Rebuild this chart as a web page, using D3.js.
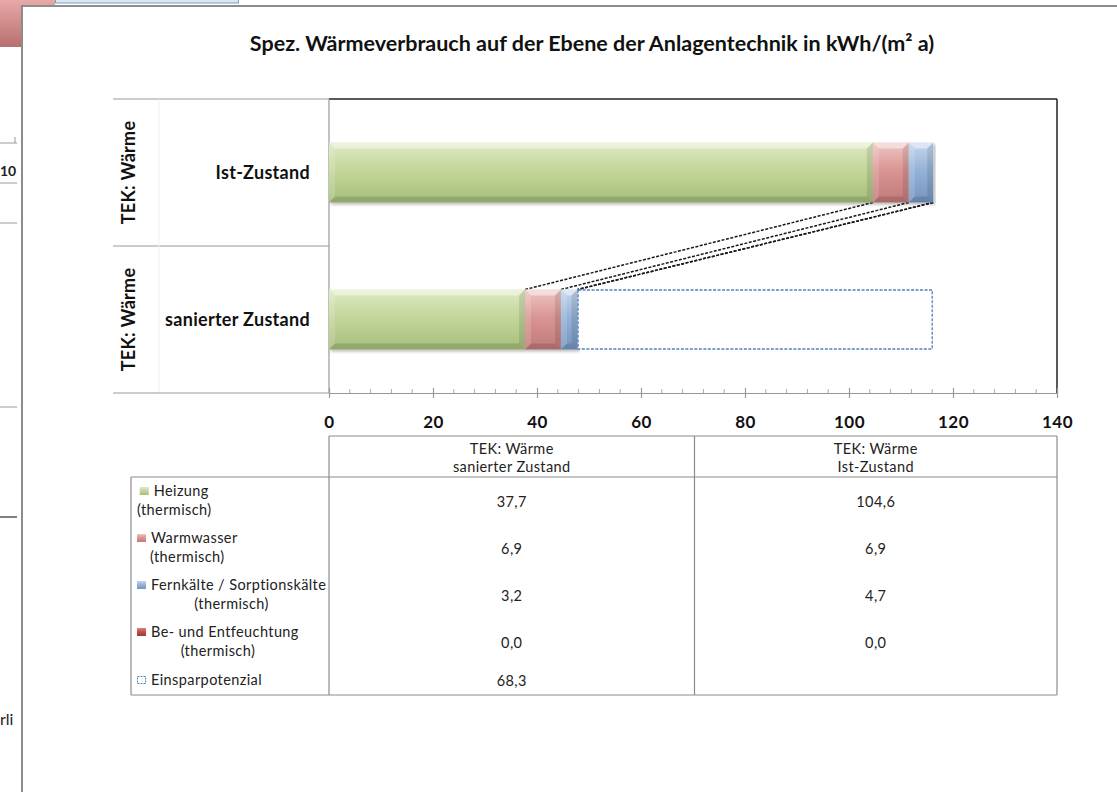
<!DOCTYPE html>
<html><head><meta charset="utf-8">
<script src="https://cdn.jsdelivr.net/npm/d3@7"></script>
<style>
html,body{margin:0;padding:0;background:#fff;overflow:hidden;}
svg{display:block;}
text{font-family:Lato,"Open Sans",sans-serif;}
</style></head>
<body>
<svg id="c" width="1117" height="792"></svg>
<script>
// ---------- data ----------
const title = "Spez. Wärmeverbrauch auf der Ebene der Anlagentechnik in kWh/(m² a)";
const categories = ["sanierter Zustand", "Ist-Zustand"];   // table column order (Excel order)
const groupLabel = "TEK: Wärme";
const seriesNames = ["Heizung|(thermisch)", "Warmwasser|(thermisch)", "Fernkälte / Sorptionskälte|(thermisch)", "Be- und Entfeuchtung|(thermisch)", "Einsparpotenzial"];
const heizung    = [37.7, 104.6];
const warmwasser = [6.9, 6.9];
const fernkaelte = [3.2, 4.7];
const befeucht   = [0.0, 0.0];
const einspar    = [68.3, null];
const xTicks = [0, 20, 40, 60, 80, 100, 120, 140];
const xDomain = [0, 140];

// ---------- styles ----------
const seriesValues = [heizung, warmwasser, fernkaelte, befeucht, einspar];
const colors = [
  {top:"#dde9c3", mid:"#c4d79b", bot:"#a6be7a"},
  {top:"#efc6c5", mid:"#da9694", bot:"#c07a78"},
  {top:"#c6d7ed", mid:"#95b3d7", bot:"#7594c0"},
  {top:"#d98583", mid:"#c0504d", bot:"#9a3a38"},
  null
];

const svg = d3.select("#c");
const fmt = d3.formatLocale({decimal:",", thousands:".", grouping:[3], currency:["","€"]}).format(".1f");

// defs
const defs = svg.append("defs");
colors.forEach((c,i)=>{
  if(!c) return;
  const g = defs.append("linearGradient").attr("id","g"+i).attr("x1",0).attr("y1",0).attr("x2",0).attr("y2",1);
  g.append("stop").attr("offset","0%").attr("stop-color",c.top);
  g.append("stop").attr("offset","45%").attr("stop-color",c.mid);
  g.append("stop").attr("offset","100%").attr("stop-color",c.bot);
});
const pinkG = defs.append("linearGradient").attr("id","pink").attr("x1",0).attr("y1",0).attr("x2",0).attr("y2",1);
pinkG.append("stop").attr("offset","0%").attr("stop-color","#e8a9a8");
pinkG.append("stop").attr("offset","100%").attr("stop-color","#b86e6e");
const sh = defs.append("filter").attr("id","sh").attr("x","-5%").attr("y","-20%").attr("width","115%").attr("height","150%");
sh.append("feDropShadow").attr("dx",2).attr("dy",2).attr("stdDeviation",1.6).attr("flood-color","#000").attr("flood-opacity",0.28);

// ---------- background artifacts outside chart frame ----------
svg.append("rect").attr("x",0).attr("y",0).attr("width",55).attr("height",47).attr("fill","url(#pink)");
svg.append("rect").attr("x",55.5).attr("y",-2).attr("width",183).attr("height",5).attr("fill","#dce6f2").attr("stroke","#7f9cc4");
[[0,17,143],[0,17,183],[0,17,223],[0,17,407]].forEach(l=>svg.append("line").attr("x1",l[0]).attr("x2",l[1]).attr("y1",l[2]).attr("y2",l[2]).attr("stroke","#999"));
svg.append("line").attr("x1",0).attr("x2",17).attr("y1",517).attr("y2",517).attr("stroke","#555").attr("stroke-width",1.5);
svg.append("line").attr("x1",15).attr("x2",15).attr("y1",137).attr("y2",143).attr("stroke","#999");
svg.append("text").attr("x",0).attr("y",176).attr("font-size",14).attr("font-weight","bold").attr("fill","#222").text("10");
svg.append("text").attr("x",0).attr("y",725).attr("font-size",16).attr("fill","#222").text("rli");

// ---------- chart frame ----------
svg.append("rect").attr("x",22).attr("y",6).attr("width",1120).attr("height",820)
  .attr("fill","#fff").attr("stroke","#8c8c8c").attr("stroke-width",2);

// title
const tt = svg.append("text").attr("x",592).attr("y",51).attr("text-anchor","middle")
  .attr("font-size",18).attr("font-weight","bold").attr("fill","#111").text(title);
{ const w = tt.node().getComputedTextLength(); tt.attr("font-size", 18*685/w); }

// ---------- scales ----------
const plotL = 329, plotR = 1057, plotT = 99, plotB = 393;
const x = d3.scaleLinear().domain(xDomain).range([plotL, plotR]);
const yOrder = categories.slice().reverse(); // Excel draws first category at bottom
const y = d3.scaleBand().domain(yOrder).range([plotT, plotB]).paddingInner(0.592).paddingOuter(0.296);

// category axis frame lines
const catL = 113;
svg.append("line").attr("x1",catL).attr("x2",plotL).attr("y1",plotT).attr("y2",plotT).attr("stroke","#999").attr("stroke-width",1.2);
svg.append("line").attr("x1",catL).attr("x2",plotL).attr("y1",(plotT+plotB)/2).attr("y2",(plotT+plotB)/2).attr("stroke","#999").attr("stroke-width",1.2);
svg.append("line").attr("x1",159).attr("x2",159).attr("y1",plotT).attr("y2",plotB).attr("stroke","#f0f0f0");
svg.append("line").attr("x1",catL).attr("x2",plotL).attr("y1",plotB).attr("y2",plotB).attr("stroke","#999").attr("stroke-width",1.2);

// plot area border (top/right dark)
svg.append("line").attr("x1",plotL).attr("x2",plotR).attr("y1",plotT).attr("y2",plotT).attr("stroke","#222").attr("stroke-width",1.5);
svg.append("line").attr("x1",plotR).attr("x2",plotR).attr("y1",plotT).attr("y2",plotB).attr("stroke","#222").attr("stroke-width",1.5);

// x axis
const xAxis = d3.axisBottom(x).tickValues(xTicks).tickSize(0).tickPadding(0).tickFormat(d3.format("d"));
const gx = svg.append("g").attr("transform",`translate(0,${plotB})`).call(xAxis);
gx.select(".domain").attr("stroke","#999").attr("stroke-width",1.2);
gx.selectAll(".tick text").attr("y",35).attr("dy",null).attr("font-size",17).attr("font-weight","bold")
  .attr("letter-spacing",0.5).attr("fill","#111").attr("font-family","Lato,sans-serif");
// major ticks crossing
gx.selectAll(".tick").append("line").attr("y1",-5).attr("y2",5).attr("stroke","#999").attr("stroke-width",1.2);
// minor ticks
const minor = d3.range(xDomain[0], xDomain[1]+0.001, 4).filter(v=>!xTicks.includes(v));
gx.selectAll(".minor").data(minor).join("line").attr("class","minor")
  .attr("x1",d=>x(d)).attr("x2",d=>x(d)).attr("y1",-4).attr("y2",0).attr("stroke","#aaa");
// y axis line
svg.append("line").attr("x1",plotL).attr("x2",plotL).attr("y1",plotT).attr("y2",plotB).attr("stroke","#999").attr("stroke-width",1.2);
yOrder.forEach(c=>{
  const cy = y(c)+y.bandwidth()/2;
  svg.append("line").attr("x1",plotL).attr("x2",plotL+4).attr("y1",cy).attr("y2",cy).attr("stroke","#999");
  svg.append("text").attr("x",310).attr("y",cy).attr("dy","0.36em").attr("text-anchor","end")
    .attr("font-size",18).attr("font-weight","bold").attr("letter-spacing",0.3).attr("fill","#111").text(c);
  svg.append("text").attr("transform",`translate(135,${cy}) rotate(-90)`).attr("text-anchor","middle")
    .attr("font-size",18).attr("font-weight","bold").attr("letter-spacing",0.3).attr("fill","#111").text(groupLabel);
});

// ---------- stacked bars ----------
const stacks = categories.map((c,ci)=>{
  let acc = 0;
  return seriesValues.map((arr,si)=>{
    const v = arr[ci];
    const s = {cat:c, si, v, x0:acc, x1:acc+(v||0)};
    acc += (v||0);
    return s;
  });
});

// series lines (between Ist-Zustand and sanierter Zustand)
const istI = categories.indexOf("Ist-Zustand"), sanI = categories.indexOf("sanierter Zustand");
for(let si=0; si<4; si++){
  const a = stacks[istI][si], b = stacks[sanI][si];
  svg.append("line")
    .attr("x1",x(a.x1)).attr("y1",y("Ist-Zustand")+y.bandwidth())
    .attr("x2",x(b.x1)).attr("y2",y("sanierter Zustand"))
    .attr("stroke","#1a1a1a").attr("stroke-width",1.5).attr("stroke-dasharray","3,1.5");
}

const barG = svg.append("g");
stacks.forEach(st=>{
  st.forEach(s=>{
    if(s.v==null || s.v<=0) return;
    const x0 = x(s.x0), x1 = x(s.x1), y0 = y(s.cat), h = y.bandwidth(), y1 = y0+h, w = x1-x0;
    if(s.si===4){
      barG.append("rect").attr("x",x0+0.5).attr("y",y0+0.5).attr("width",w-1).attr("height",h-1)
        .attr("fill","#fff").attr("stroke","#4f81bd").attr("stroke-width",1.3).attr("stroke-dasharray","3,1.5");
      return;
    }
    const g = barG.append("g");
    g.append("rect").attr("x",x0).attr("y",y0).attr("width",w).attr("height",h).attr("fill","url(#g"+s.si+")").attr("filter","url(#sh)");
    const b = Math.min(6, w/2);
    g.append("polygon").attr("points",`${x0},${y0} ${x1},${y0} ${x1-b},${y0+b} ${x0+b},${y0+b}`).attr("fill","#fff").attr("opacity",0.45);
    g.append("polygon").attr("points",`${x0},${y0} ${x0+b},${y0+b} ${x0+b},${y1-b} ${x0},${y1}`).attr("fill","#fff").attr("opacity",0.15);
    g.append("polygon").attr("points",`${x1},${y0} ${x1-b},${y0+b} ${x1-b},${y1-b} ${x1},${y1}`).attr("fill","#000").attr("opacity",0.1);
    g.append("polygon").attr("points",`${x0},${y1} ${x1},${y1} ${x1-b},${y1-b} ${x0+b},${y1-b}`).attr("fill","#000").attr("opacity",0.12);
  });
});

// ---------- data table ----------
const tL = 131, tH = 436, tB0 = 477, rowH = 47, tBot = 695, colMid = (plotL+plotR)/2 + 1.5;
const gc = "#8c8c8c";
const tFont = 14.5, tLs = 0.4;
const tl = (x1,y1,x2,y2)=>svg.append("line").attr("x1",x1).attr("y1",y1).attr("x2",x2).attr("y2",y2).attr("stroke",gc).attr("stroke-width",1.2);
tl(plotL,tH,plotR,tH);
tl(tL,tB0,plotR,tB0);
tl(tL,tBot,plotR,tBot);
tl(tL,tB0,tL,tBot);
tl(plotL,tH,plotL,tBot);
tl(colMid,tH,colMid,tBot);
tl(plotR,tH,plotR,tBot);

const colCenters = [(plotL+colMid)/2, (colMid+plotR)/2];
categories.forEach((c,ci)=>{
  const t = svg.append("text").attr("text-anchor","middle").attr("font-size",tFont).attr("letter-spacing",tLs).attr("fill","#222");
  t.append("tspan").attr("x",colCenters[ci]).attr("y",454).text(groupLabel);
  t.append("tspan").attr("x",colCenters[ci]).attr("y",472).text(c);
});

seriesNames.forEach((nm,si)=>{
  const last = si===seriesNames.length-1;
  const cy = last ? (tB0+4*rowH+tBot)/2 : tB0 + rowH*si + rowH/2;
  const lines = nm.split("|");
  // values
  categories.forEach((c,ci)=>{
    const v = seriesValues[si][ci];
    if(v==null) return;
    svg.append("text").attr("x",colCenters[ci]).attr("y",cy+1).attr("dy","0.35em").attr("text-anchor","middle")
      .attr("font-size",tFont).attr("letter-spacing",tLs).attr("fill","#222").text(fmt(v));
  });
  // legend entry
  const keyW = 9, gap = 5;
  const ts = lines.map(l=>svg.append("text").attr("font-size",tFont).attr("letter-spacing",tLs).attr("fill","#222").text(l));
  const ws = ts.map(t=>t.node().getComputedTextLength());
  const w1 = keyW + gap + ws[0];
  const W = Math.max(w1, ws[1]||0);
  const left = 137;
  const ly = lines.length>1 ? [cy-9.5, cy+9.5] : [cy];
  const s1 = left + (W - w1)/2;
  ts[0].attr("x", s1+keyW+gap).attr("y",ly[0]).attr("dy","0.35em");
  if(ts[1]) ts[1].attr("x", left + (W-ws[1])/2).attr("y",ly[1]).attr("dy","0.35em");
  if(colors[si]){
    svg.append("rect").attr("x",s1).attr("y",ly[0]-4).attr("width",keyW).attr("height",8).attr("fill","url(#g"+si+")");
  } else {
    svg.append("rect").attr("x",s1+0.5).attr("y",ly[0]-3.5).attr("width",keyW-1).attr("height",7).attr("fill","#fff")
      .attr("stroke","#4f81bd").attr("stroke-width",1).attr("stroke-dasharray","2,1");
  }
});
</script>
</body></html>
